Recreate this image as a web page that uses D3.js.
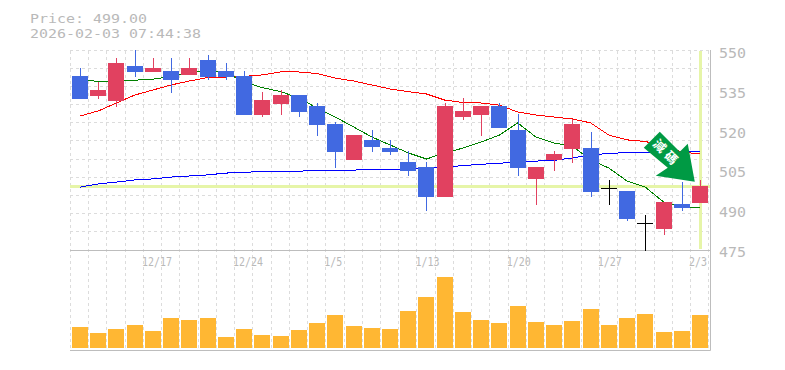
<!DOCTYPE html>
<html>
<head>
<meta charset="utf-8">
<script src="https://cdnjs.cloudflare.com/ajax/libs/d3/7.8.5/d3.min.js"></script>
<style>
html,body{margin:0;padding:0;background:#fff;}
svg{display:block;}
text{font-family:"DejaVu Sans Mono",monospace;fill:#b9b9b9;}
</style>
</head>
<body>
<svg id="chart" width="785" height="370"></svg>
<script>
const currentPrice = 499.00;
const stamp = '2026-02-03 07:44:38';

const days = ['12/11','12/12','12/15','12/16','12/17','12/18','12/19','12/22','12/23','12/24','12/26','12/29','12/30','12/31','1/5','1/6','1/7','1/8','1/9','1/13','1/14','1/15','1/16','1/19','1/20','1/21','1/22','1/23','1/26','1/27','1/28','1/29','1/30','2/2','2/3'];
const dateTicks = ['12/17','12/24','1/5','1/13','1/20','1/27','2/3'];
const priceTicks = [550,535,520,505,490,475];

// open / high / low / close
const open  = [540.6,533.0,531.2,544.3,542.1,542.5,541.0,546.6,542.5,540.6,525.9,530.0,533.4,529.3,522.5,508.9,516.5,513.4,508.2,506.3,495.0,525.1,525.9,529.3,520.2,501.8,508.9,513.1,513.4,498.4,497.2,485.2,482.9,492.3,492.7];
const high  = [543.6,538.3,547.4,550.4,547.4,547.4,547.4,548.5,545.5,542.5,534.5,535.3,533.4,530.4,523.2,518.3,520.2,516.5,512.3,508.2,530.4,532.3,529.3,530.4,526.3,506.3,512.3,524.4,519.5,501.4,497.2,488.2,493.1,500.6,501.4];
const low   = [531.9,531.9,528.9,540.2,542.1,534.2,541.0,539.1,539.1,525.9,525.1,525.9,525.1,518.0,505.9,508.9,511.9,510.8,502.9,489.7,495.0,524.0,518.0,521.0,502.9,492.0,504.8,507.8,495.0,492.0,485.9,474.8,480.6,489.7,492.7];
const close = [531.9,535.3,545.5,542.1,543.6,539.1,543.6,540.2,540.2,525.9,531.5,533.4,527.0,522.1,511.9,518.3,513.8,511.9,504.8,495.0,529.3,527.4,529.3,521.0,505.9,506.3,511.2,522.5,496.9,498.4,486.7,485.2,493.1,490.8,499.0];
const volume = [21,15,19,23,17,30,28,30,11,19,13,12,18,25,33,22,20,19,37,51,71,36,28,25,42,26,23,27,39,23,30,34,16,17,33];

const maShort = [539.4,538.5,538.8,539.0,539.4,540.4,542.1,542.3,541.9,538.3,536.2,534.7,532.3,528.5,525.1,521.4,517.6,514.6,511.6,509.3,511.6,513.4,515.7,518.3,522.9,517.6,515.3,514.2,508.9,505.9,501.0,498.7,493.1,491.2,491.2];
const maMid   = [525.5,527.4,530.4,533.4,535.3,537.2,538.7,540.0,540.2,540.4,541.0,542.1,542.1,541.5,539.8,538.7,537.2,535.7,534.7,533.8,531.5,530.6,530.4,529.6,527.0,525.9,525.1,524.4,522.9,518.3,516.5,515.9,514.2,511.9,511.2];
const maLong  = [498.7,499.9,500.6,501.4,501.8,502.5,502.9,503.3,504.0,504.2,504.7,504.7,504.7,505.0,505.1,505.1,505.4,505.4,505.5,505.9,506.3,506.8,507.3,507.7,508.2,508.5,508.8,509.7,510.8,511.4,511.7,511.7,511.9,512.1,512.3];

const svg = d3.select('#chart');
const leftX = 70, rightX = 710, topY = 51, bottomY = 250, volBottom = 350;
const x = d3.scalePoint().domain(days).range([80,700]);
const y = d3.scaleLinear().domain([475,550]).range([250,51]);
const yVol = d3.scaleLinear().domain([0,98]).range([348,250]);
const px = d => Math.round(x(d));
const blue = '#4169e1', red = '#e14160';

// grid
const gridV = days.map(d => x(d)-10).concat([708]);
svg.append('g').selectAll('line').data(gridV).join('line')
  .attr('x1',d=>Math.round(d)+0.5).attr('x2',d=>Math.round(d)+0.5)
  .attr('y1',topY).attr('y2',volBottom)
  .attr('stroke','#dcdcdc').attr('stroke-dasharray','3,3');
svg.append('g').selectAll('line').data(d3.range(0,11)).join('line')
  .attr('x1',leftX).attr('x2',rightX)
  .attr('y1',i=>Math.round(topY+i*199/11)-0.5).attr('y2',i=>Math.round(topY+i*199/11)-0.5)
  .attr('stroke','#dcdcdc').attr('stroke-dasharray','3,3');

// current price cross
const priceY = Math.round(y(currentPrice))+0.5;
svg.append('line').attr('x1',leftX).attr('x2',rightX).attr('y1',priceY).attr('y2',priceY)
  .attr('stroke','#e6f5a8').attr('stroke-width',3);
svg.append('line').attr('x1',x('2/3')+0.5).attr('x2',x('2/3')+0.5).attr('y1',topY).attr('y2',bottomY-1)
  .attr('stroke','#e6f5a8').attr('stroke-width',3);

// frame
svg.append('path').attr('d',`M${rightX+0.5},${topY-1}V${volBottom+0.5}H${leftX}M${leftX},${bottomY+0.5}H${rightX}`)
  .attr('fill','none').attr('stroke','#bdbdbd');

// moving averages
const line = d3.line().x((d,i)=>x(days[i])).y(d=>y(d));
[[maLong,'#0000ff'],[maMid,'#ff0000'],[maShort,'#008000']].forEach(([s,c])=>{
  svg.append('path').attr('d',line(s)).attr('fill','none').attr('stroke',c)
    .attr('stroke-width',1).attr('shape-rendering','crispEdges');
});

// candles
const candle = svg.append('g').selectAll('g').data(days).join('g');
const tone = i => open[i]===close[i] ? '#000' : close[i]>open[i] ? red : blue;
candle.append('line')
  .attr('x1',d=>px(d)+0.5).attr('x2',d=>px(d)+0.5)
  .attr('y1',(d,i)=>Math.round(y(high[i]))).attr('y2',(d,i)=>Math.min(251,Math.round(y(low[i]))))
  .attr('stroke',(d,i)=>tone(i));
candle.append('rect')
  .attr('x',d=>px(d)-8).attr('width',16)
  .attr('y',(d,i)=>Math.round(y(Math.max(open[i],close[i]))))
  .attr('height',(d,i)=>Math.max(1,Math.round(y(Math.min(open[i],close[i])))-Math.round(y(Math.max(open[i],close[i])))))
  .attr('fill',(d,i)=>tone(i));

// volume
svg.append('g').selectAll('rect').data(days).join('rect')
  .attr('x',d=>px(d)-8).attr('width',16)
  .attr('y',(d,i)=>yVol(volume[i])).attr('height',(d,i)=>yVol(0)-yVol(volume[i]))
  .attr('fill','#ffb733');

// sell arrow, tip sits just above the last candle
const arrow = svg.append('g').attr('transform',`translate(${x('2/2')+13},${y(500.7)})`);
arrow.append('path').attr('d','M-35,-50L-51,-34L-27,-14L-39,-6L0,0L-7,-38L-15,-30Z').attr('fill','#009a44');
arrow.append('text').attr('transform','translate(-28,-28.5) rotate(45)').attr('text-anchor','middle').attr('y',4.5)
  .style('font-family','"Noto Sans CJK TC"').style('fill','#fff').style('font-weight','bold')
  .style('letter-spacing','4px').attr('font-size',12.5).text('減碼');

// axis text, stretched to the wide bitmap look of the original
const wide = (sel, perChar) => sel.attr('textLength',d=>String(d).length*perChar).attr('lengthAdjust','spacingAndGlyphs');
svg.append('g').selectAll('text').data(priceTicks).join('text')
  .attr('x',719).attr('y',d=>y(d)+7).attr('font-size',13.5).text(d=>d).call(wide,9);
svg.append('g').selectAll('text').data(dateTicks).join('text')
  .attr('x',d=>x(d)-11).attr('y',266).attr('font-size',12).text(d=>d).call(wide,6);
svg.append('g').selectAll('text').data(['Price: '+currentPrice.toFixed(2),stamp]).join('text')
  .attr('x',30).attr('y',(d,i)=>22.5+i*15).attr('font-size',13).text(d=>d).call(wide,9);
</script>
</body>
</html>
